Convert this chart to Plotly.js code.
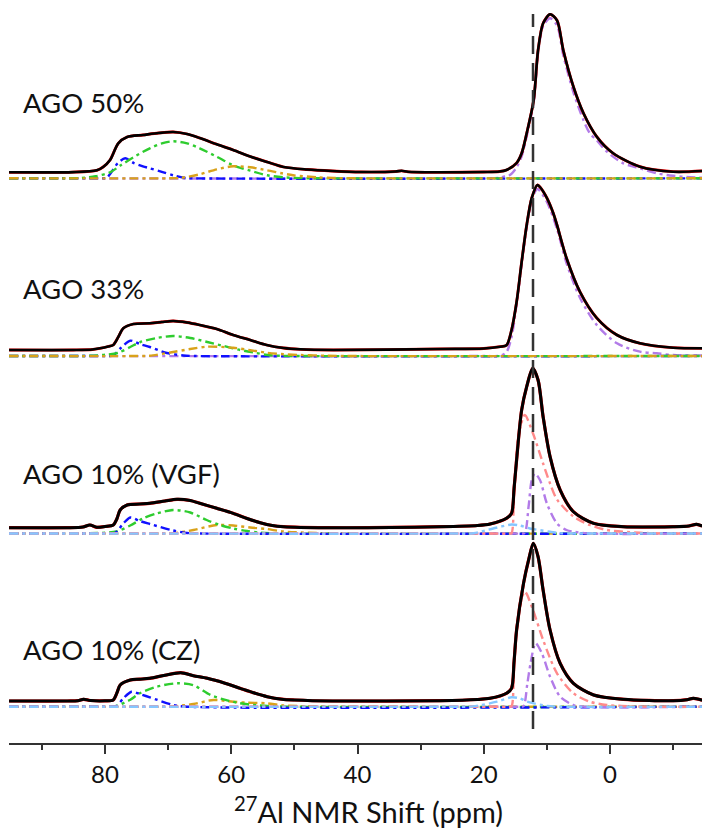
<!DOCTYPE html>
<html>
<head>
<meta charset="utf-8">
<script src="https://cdn.plot.ly/plotly-3.0.1.min.js"></script>
<style>html,body{margin:0;padding:0;background:#fff;}#chart{width:702px;height:832px;}</style>
</head>
<body>
<div id="chart"></div>
<script>
// ---- Data: [ppm, intensity] (intensity in arbitrary units above each trace's zero line) ----
const panelLabels = ["AGO 50%", "AGO 33%", "AGO 10% (VGF)", "AGO 10% (CZ)"];
const xTitle = "<sup>27</sup>Al NMR Shift (ppm)";
const referenceShift = 12.2; // dashed reference line, ppm

// AGO 50%
const p1Exp = [[95.2,6],[85,6.2],[81.3,8],[80.3,11.3],[79.2,18.3],[77.9,35],[76.5,41.3],[74,43.3],[71.5,45.3],[69.2,46.3],[67,44.3],[65,40.3],[62.3,34],[59.7,28.3],[57,21.8],[54.3,16.3],[51.7,11.3],[48,8.8],[44,7.3],[39.5,6.3],[34,6.8],[33,7.5],[32,6.5],[26.9,6],[20,6.3],[17.5,6.8],[16.4,8.3],[14.8,15.3],[14,25],[13.2,45],[12.1,78],[11.4,128],[10.6,155],[9.5,164],[8.4,158],[7.4,128],[5.8,91.6],[4.2,65],[2.1,41.6],[-0.5,25],[-4.75,11.6],[-10,6.6],[-14.6,7.3]];
const p1Blue = [[95.2,0],[82,0],[80,0],[79.7,0.5],[79,6],[78,15],[76.8,20],[75.5,15.5],[74,12],[72.9,10],[71,6.5],[69.2,3],[67.5,0.5],[66,0],[-14.6,0]];
const p1Green = [[95.2,0],[86,0],[84,0.3],[81.5,2],[79.2,6],[77.5,13],[75.5,21],[72.9,30],[71,35],[69.2,37],[67,35],[65,30],[62.3,21.6],[59.7,13],[57,7.6],[54.3,3],[51.7,1],[49,0.2],[46,0],[-14.6,0]];
const p1Orange = [[95.2,0],[70,0],[68.1,0.3],[65,4],[62.3,9],[59.7,12],[57,11],[54.3,8],[52,5],[50.2,3],[46.4,1],[43.8,0.3],[40,0],[-14.6,0]];
const p1Purple = [[95.2,0],[20,0],[17.5,0.5],[16.4,2.5],[15.8,3.5],[14.8,11],[14,22],[13.2,42],[12.1,76],[11.4,125],[10.6,152],[9.5,160],[8.4,153],[7.4,123],[5.8,86],[4.2,58],[3.2,45],[2.1,38],[0.5,26.6],[-2.1,15],[-4.75,10],[-7.4,5],[-10,2.5],[-12.7,1],[-14.6,0.5]];

// AGO 33%
const p2Exp = [[95.2,6],[85,6],[82,6.5],[80.8,7.7],[79.5,9.5],[78.7,11],[77.9,19],[77.1,27.7],[75.5,32],[72.9,32.7],[71,34],[69.2,35],[67,33.5],[65,31],[62.3,27],[59.7,21],[57,16],[54.4,11],[51.7,8],[49.1,6.7],[43.8,6],[26.9,7],[20,7.5],[17.4,9.3],[16.4,10.7],[15.6,26],[14.8,54],[14,94],[13.2,131],[12.4,158],[11.5,171],[11.1,169],[10,158],[9,143],[8.4,131],[6.9,98],[4.75,64],[2.1,38],[-1.1,21],[-4.75,12.7],[-10,8.3],[-14.6,7.7]];
const p2Blue = [[95.2,0],[82,0],[79.5,0],[78.7,0.5],[77.5,8],[76,15.3],[74.5,12],[72.9,9],[70.2,3],[67.6,0.5],[66,0],[-14.6,0]];
const p2Green = [[95.2,0],[84,0],[82.4,0.2],[80,1.2],[78,3],[76,9],[74.4,14],[71.8,18],[69.2,20],[66.5,18],[63.8,14],[61.2,10],[58.6,6],[56,3],[54.3,1],[52,0.2],[50,0],[-14.6,0]];
const p2Orange = [[95.2,0],[74,0],[72.9,0.2],[69.2,4],[66.5,7],[63.8,9.3],[59.7,8.3],[57,5.8],[54.4,3.3],[51.7,1.8],[49,1],[45,0.3],[42,0],[-14.6,0]];
const p2Purple = [[95.2,0],[20,0],[17.4,0.3],[16.4,4],[15.6,19],[14.8,52],[14,92],[13.2,129],[12.4,156],[11.5,167],[10,154],[8.4,127],[6.9,93],[4.75,58],[2.1,31],[-1.1,12.7],[-4.75,4.3],[-7.4,2.7],[-10,1],[-14.6,0.5]];

// AGO 10% (VGF)
const p3Exp = [[95.2,5.8],[86,5.8],[83.5,6.5],[82.4,8.5],[81.3,6.2],[80,7],[78.7,8.5],[78.1,15],[77.6,23.5],[76.5,28.5],[74.5,29.5],[72.9,30.2],[70.5,32.5],[68.6,34.2],[66.5,33],[65,30.2],[62.3,25.2],[59.7,20.2],[57.5,15],[55.4,10.8],[53.5,8],[51.7,6.8],[45,5.8],[26.9,6.8],[21,8],[19,9.5],[16.4,15.2],[15.6,20.2],[15.2,45],[14.8,73.5],[14,123.5],[13.2,146.8],[12.25,165.2],[11.4,153.5],[10.6,116.8],[9.5,76.8],[7.9,43.5],[5.8,21.8],[2.6,10.2],[-2.1,6.8],[-10,6.8],[-12.5,7.5],[-13.7,9.2],[-14.6,7.5]];
const p3Blue = [[95.2,0],[82,0],[79.5,0],[78.4,0.5],[77.1,10],[76,16],[74.5,12.5],[72.9,9.5],[69.2,3],[67,0.5],[65,0],[-14.6,0]];
const p3Green = [[95.2,0],[85,0],[82.4,0.2],[78.2,2],[76,8],[74,15],[71.8,20],[69.2,23.5],[66.5,21],[63.9,13.5],[61.8,8.5],[59.7,5],[57.5,2.5],[55.4,0.8],[52,0],[-14.6,0]];
const p3Orange = [[95.2,0],[71,0],[69.2,0.3],[66,3.5],[62.3,8.5],[59.7,8],[57,6],[54.4,4.5],[51.8,2],[46.5,0.5],[42,0],[-14.6,0]];
const p3Pink = [[95.2,0],[20,0],[16,0],[15.6,0.5],[15.2,40],[14.5,97],[13.5,118.5],[12.2,100],[10.6,70],[9.5,50],[8.4,34],[5.8,17],[3.2,8.5],[0.5,3.5],[-4.75,0.8],[-9,0],[-14.6,0]];
const p3Purple = [[95.2,0],[16,0],[14,0],[13.5,0.5],[12.9,27],[12.4,53.5],[11.9,60],[11.1,53.5],[10,30],[8.4,10],[6.9,3.5],[5.8,1.8],[3,0],[-14.6,0]];
const p3LightBlue = [[95.2,0],[24,0],[21.6,0.3],[18.5,5],[15.6,9],[14.3,8],[12.7,5],[9.5,1.8],[7.9,0.3],[5,0],[-14.6,0]];

// AGO 10% (CZ)
const p4Exp = [[95.2,5.7],[86,5.7],[84.3,6],[83.4,7.4],[82.3,6.2],[80,5.9],[78.7,6.7],[78.1,14],[77.6,21.7],[76,26.7],[74.5,27.5],[72.9,28.4],[70.5,31.5],[68,34],[66,31],[63.8,28.4],[61,23.5],[58.6,18.4],[56.5,14],[54.3,10],[52,7.5],[50,6.7],[44,5.7],[26.9,6],[21,7.2],[19,8.4],[16.4,13.4],[15.6,18.4],[15.2,45],[14.8,76.7],[13.7,123.4],[12.9,146.7],[12.15,163.4],[11.4,150],[10.6,116.7],[9.5,76.7],[7.9,43.4],[5.8,23.4],[2.6,11.7],[-2.1,7.4],[-10,6],[-12.2,7],[-13.2,8.4],[-14.6,6.5]];
const p4Blue = [[95.2,0],[82,0],[79.5,0],[78.2,0.5],[77.1,8.4],[75.8,15],[74.5,12.7],[72.9,9.4],[69.2,1.7],[67,0],[-14.6,0]];
const p4Green = [[95.2,0],[84,0],[80,0],[78.2,0.8],[76,7],[74.5,13.4],[71.8,20],[68.6,23.4],[66,21.5],[63.3,11.7],[60.5,6],[58.6,3.4],[56,1.5],[54.3,0.7],[51,0],[-14.6,0]];
const p4Orange = [[95.2,0],[71,0],[69.2,0.3],[66,2.7],[62.8,6.7],[59.7,5],[57.5,4],[54.4,3.4],[51.8,1.3],[46.5,0.3],[43,0],[-14.6,0]];
const p4Pink = [[95.2,0],[20,0],[16,0],[15.6,0.5],[15.2,43],[14.5,93],[13.5,115],[12.2,96.7],[10.6,66.7],[8.4,33.4],[5.8,13.4],[3.2,5],[0.5,1.7],[-4,0.3],[-8,0],[-14.6,0]];
const p4Purple = [[95.2,0],[16,0],[14.3,0],[13.7,0.5],[13.1,23],[12.6,43],[11.8,63.4],[10.8,53.4],[9.5,30],[7.9,10],[5.8,1.7],[4,0],[-14.6,0]];
const p4LightBlue = [[95.2,0],[24,0],[21.7,0.3],[17.9,5],[15.6,9.4],[14.3,8.4],[13.1,5],[10,0.7],[8,0],[-14.6,0]];

// ---- Styling ----
const COLORS = {exp:'#000000', fit:'#ff0000', blue:'#1010ff', green:'#2ecc2e', orange:'#d9a21b', purple:'#b27be8', pink:'#ff8a8a', lightBlue:'#86c6ff'};
const DASHDOT = '9px,4px,3px,4px';

const panels = [
  {axis:'y',  comps:[['purple',p1Purple],['blue',p1Blue],['green',p1Green],['orange',p1Orange]], exp:p1Exp},
  {axis:'y2', comps:[['purple',p2Purple],['blue',p2Blue],['green',p2Green],['orange',p2Orange]], exp:p2Exp},
  {axis:'y3', comps:[['orange',p3Orange],['green',p3Green],['blue',p3Blue],['purple',p3Purple],['pink',p3Pink],['lightBlue',p3LightBlue]], exp:p3Exp},
  {axis:'y4', comps:[['orange',p4Orange],['green',p4Green],['blue',p4Blue],['purple',p4Purple],['pink',p4Pink],['lightBlue',p4LightBlue]], exp:p4Exp}
];

const xs = pts => pts.map(p => p[0]);
const ys = pts => pts.map(p => p[1]);

const traces = [];
panels.forEach((pan, i) => {
  pan.comps.forEach(([c, pts]) => {
    traces.push({type:'scatter', mode:'lines', x:xs(pts), y:ys(pts), xaxis:'x', yaxis:pan.axis,
      line:{color:COLORS[c], width:2.4, dash:DASHDOT, shape:'spline', smoothing:0.8}, hoverinfo:'skip', name:panelLabels[i]+' '+c});
  });
  // fit (red) underneath, experiment (black) on top
  traces.push({type:'scatter', mode:'lines', x:xs(pan.exp), y:ys(pan.exp), xaxis:'x', yaxis:pan.axis,
    line:{color:COLORS.fit, width:i>1?3.2:2.8, shape:'spline', smoothing:0.8}, hoverinfo:'skip', name:panelLabels[i]+' fit'});
  traces.push({type:'scatter', mode:'lines', x:xs(pan.exp), y:ys(pan.exp), xaxis:'x', yaxis:pan.axis,
    line:{color:COLORS.exp, width:i>1?3.0:2.6, shape:'spline', smoothing:0.8}, hoverinfo:'skip', name:panelLabels[i]});
});

// plot area: top pixel 2, bottom pixel 743 (height 741); each panel's zero line pixel
const zeroPix = [178.3, 356, 533.5, 706.7];
const TOP = 2, BOT = 743;
const yr = z => [-(BOT - z), (z - TOP)];
const labelPix = [102.5, 288.3, 473.3, 649];

const layout = {
  width:702, height:832,
  margin:{l:9, r:0, t:TOP, b:832-BOT},
  paper_bgcolor:'#ffffff', plot_bgcolor:'#ffffff',
  showlegend:false,
  font:{family:'Lato, "Open Sans", sans-serif', color:'#111111'},
  xaxis:{range:[95.21,-14.57], showline:true, linecolor:'#333333', linewidth:2,
    ticks:'outside', ticklen:9, tickwidth:2, tickcolor:'#333333', dtick:20, tick0:0,
    minor:{dtick:10, ticks:'outside', ticklen:5, tickwidth:2, tickcolor:'#333333', showgrid:false},
    showgrid:false, zeroline:false, tickfont:{size:24, color:'#111111'},
    fixedrange:true},
  yaxis:{range:yr(zeroPix[0]), visible:false, fixedrange:true},
  yaxis2:{range:yr(zeroPix[1]), visible:false, overlaying:'y', fixedrange:true},
  yaxis3:{range:yr(zeroPix[2]), visible:false, overlaying:'y', fixedrange:true},
  yaxis4:{range:yr(zeroPix[3]), visible:false, overlaying:'y', fixedrange:true},
  shapes:[{type:'line', xref:'x', yref:'paper', x0:referenceShift, x1:referenceShift,
    y0:(BOT-729)/(BOT-TOP), y1:(BOT-14)/(BOT-TOP), line:{color:'#333333', width:2.5, dash:'18px,9px'}}],
  annotations: panelLabels.map((t, i) => ({text:t, xref:'paper', yref:'paper', x:(21-9)/693,
    y:(BOT-labelPix[i])/(BOT-TOP), xanchor:'left', yanchor:'middle', showarrow:false,
    font:{size:27.5, color:'#111111'}})).concat([
    {text:xTitle, xref:'paper', yref:'paper', x:(368-9)/693, y:(BOT-831)/(BOT-TOP),
     xanchor:'center', yanchor:'bottom', showarrow:false, font:{size:29, color:'#111111'}}])
};

Plotly.newPlot('chart', traces, layout, {staticPlot:true, displayModeBar:false});
</script>
</body>
</html>
